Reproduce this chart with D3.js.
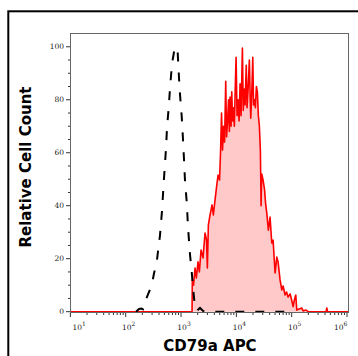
<!doctype html>
<html lang="en">
<head>
<meta charset="utf-8">
<title>CD79a APC histogram</title>
<script src="https://d3js.org/d3.v7.min.js" charset="utf-8"></script>
<style>
body {
    margin: 0;
    background: #fff;
}
.tick-label {
    font: 7.5px "DejaVu Serif", serif;
    fill: #222;
}
.title {
    font: bold 15px "DejaVu Sans", sans-serif;
    fill: #000;
}
</style>
</head>
<body>
<div id="vis-container"></div>
<script type="text/javascript">

// tick values
var xTicks = [1e1, 1e2, 1e3, 1e4, 1e5, 1e6];
var yTicks = [0, 20, 40, 60, 80, 100];

// isotype control (black dashed), positions in log10 of intensity
var isoLog = [2.186, 2.241, 2.286, 2.313, 2.349, 2.403, 2.470, 2.512, 2.561, 2.620,
              2.656, 2.684, 2.729, 2.747, 2.778, 2.802, 2.838, 2.873, 2.910, 2.940,
              2.964, 2.982, 3.013, 3.036, 3.054, 3.072, 3.103, 3.127, 3.163, 3.193,
              3.217, 3.253, 3.289, 3.343, 3.398, 3.434, 5.0];
var isoCount = [0, 1.0, 1.2, 0.9, 3.7, 6.5, 10, 14.5, 18.8, 28.9,
                38, 47.8, 61.8, 69.7, 77.2, 84.8, 93.8, 98, 100, 97.6,
                88, 81.8, 73.5, 64.8, 57.3, 49.3, 41.4, 31.6, 21.4, 15,
                9, 1.4, 0.4, 1.4, 0.3, 0, 0];

// CD79a APC stained sample (red filled)
var cd79Log = [0.99, 3.199, 3.204, 3.226, 3.253, 3.277, 3.307, 3.331, 3.362, 3.398,
               3.434, 3.461, 3.476, 3.494, 3.524, 3.561, 3.584, 3.615, 3.646, 3.669,
               3.696, 3.714, 3.732, 3.750, 3.769, 3.787, 3.808, 3.823, 3.841, 3.859,
               3.873, 3.886, 3.904, 3.917, 3.931, 3.946, 3.964, 3.977, 3.995, 4.013,
               4.031, 4.049, 4.067, 4.085, 4.109, 4.125, 4.139, 4.157, 4.179, 4.193,
               4.212, 4.235, 4.251, 4.260, 4.278, 4.297, 4.311, 4.329, 4.344, 4.362,
               4.380, 4.398, 4.416, 4.434, 4.447, 4.459, 4.483, 4.510, 4.528, 4.550,
               4.579, 4.609, 4.640, 4.664, 4.700, 4.731, 4.754, 4.790, 4.821, 4.845,
               4.881, 4.908, 4.935, 4.972, 4.999, 5.026, 5.048, 5.074, 5.092, 5.134,
               5.183, 5.206, 5.260, 5.297, 5.622, 5.635, 5.649, 6.04];
var cd79Count = [0, 0, 12, 10, 16.5, 12.7, 18.8, 15, 23.3, 20.3,
                 29.7, 27, 16.5, 32.7, 36.5, 40.3, 36.5, 42.2, 47.8, 51.6,
                 49.7, 60, 75, 61, 70, 64, 87, 66, 72, 80,
                 68, 81, 70, 83, 72, 77, 70, 82, 96, 74,
                 80, 72, 86, 74, 99.5, 76, 84, 78, 93, 77,
                 84, 95, 80, 73, 82, 96, 78, 80, 77, 85,
                 83, 74, 70, 61, 40, 52, 49.7, 46, 41, 37.2,
                 30.8, 35.7, 25.9, 27, 14.6, 20.6, 18.8, 12, 8.2, 9.7,
                 6.3, 7.4, 5.5, 6.7, 4.4, 1.9, 4.4, 6.3, 0.6, 1,
                 1.4, 0.3, 0.6, 0, 0, 1.4, 0, 0];

var svg = d3.select("#vis-container")
    .append("svg")
    .attr("width", 358)
    .attr("height", 356);

// outer frame
svg.append("rect")
    .attr("x", 8.3).attr("y", 11.3)
    .attr("width", 400).attr("height", 400)
    .attr("fill", "none")
    .attr("stroke", "#000")
    .attr("stroke-width", 2);

var plot = { left: 70, top: 33, right: 349, bottom: 313 };

var xScale = d3.scaleLog()
    .domain([Math.pow(10, 0.993), Math.pow(10, 6.036)])
    .range([plot.left, plot.right]);

var yScale = d3.scaleLinear()
    .domain([-0.5, 105.2])
    .range([plot.bottom, plot.top]);

var iso = isoLog.map(function(d, i) { return { v: Math.pow(10, d), c: isoCount[i] }; });
var cd79 = cd79Log.map(function(d, i) { return { v: Math.pow(10, d), c: cd79Count[i] }; });

svg.append("clipPath").attr("id", "clip")
  .append("rect")
    .attr("x", plot.left).attr("y", plot.top)
    .attr("width", plot.right - plot.left)
    .attr("height", plot.bottom - plot.top);

var canvas = svg.append("g").attr("clip-path", "url(#clip)");

var area = d3.area()
    .x(function(d) { return xScale(d.v); })
    .y0(yScale(0))
    .y1(function(d) { return yScale(d.c); });

var line = d3.line()
    .x(function(d) { return xScale(d.v); })
    .y(function(d) { return yScale(d.c); });

canvas.append("path")
    .datum(cd79)
    .attr("d", area)
    .attr("fill", "#ffc9c9");

canvas.append("path")
    .datum(cd79)
    .attr("d", line)
    .attr("fill", "none")
    .attr("stroke", "#ff0000")
    .attr("stroke-width", 1.6)
    .attr("stroke-linejoin", "round");

canvas.append("path")
    .datum(iso)
    .attr("d", line)
    .attr("fill", "none")
    .attr("stroke", "#000")
    .attr("stroke-width", 2)
    .attr("stroke-dasharray", "9,11");

// plot box
svg.append("rect")
    .attr("x", plot.left + 0.5).attr("y", plot.top + 0.5)
    .attr("width", plot.right - plot.left - 1)
    .attr("height", plot.bottom - plot.top - 1)
    .attr("fill", "none")
    .attr("stroke", "#666")
    .attr("stroke-width", 1);

// y axis ticks: majors every 20, minors every 5
var yMinor = d3.range(0, 105, 5);
svg.append("g").selectAll("line")
    .data(yMinor)
  .enter().append("line")
    .attr("x1", function(d) { return plot.left - (d % 20 === 0 ? 4 : 2); })
    .attr("x2", plot.left)
    .attr("y1", function(d) { return yScale(d); })
    .attr("y2", function(d) { return yScale(d); })
    .attr("stroke", "#333")
    .attr("stroke-width", 1);

svg.append("g").selectAll("text")
    .data(yTicks)
  .enter().append("text")
    .attr("class", "tick-label")
    .attr("x", plot.left - 6)
    .attr("y", function(d) { return yScale(d); })
    .attr("dy", "0.35em")
    .attr("text-anchor", "end")
    .text(function(d) { return d; });

// x axis ticks: decades and log minors
var xMinor = [];
xTicks.slice(0, -1).forEach(function(t) {
    for (var k = 2; k <= 9; k++) xMinor.push(t * k);
});

svg.append("g").selectAll("line")
    .data(xTicks.concat(xMinor))
  .enter().append("line")
    .attr("x1", function(d) { return xScale(d); })
    .attr("x2", function(d) { return xScale(d); })
    .attr("y1", plot.bottom)
    .attr("y2", function(d) { return plot.bottom + (xTicks.indexOf(d) >= 0 ? 4 : 2); })
    .attr("stroke", "#333")
    .attr("stroke-width", 1);

var xLabels = svg.append("g").selectAll("text")
    .data(xTicks)
  .enter().append("text")
    .attr("class", "tick-label")
    .attr("x", function(d) { return xScale(d) + 3; })
    .attr("y", 330)
    .attr("text-anchor", "middle");

xLabels.append("tspan").text("10");
xLabels.append("tspan")
    .attr("dy", -4.5)
    .style("font-size", "6px")
    .text(function(d) { return Math.round(Math.log10(d)); });

// keep the end labels inside the plot width
xLabels.each(function() {
    var b = this.getBBox(), x = +this.getAttribute("x");
    if (b.x < plot.left + 2.5) x += plot.left + 2.5 - b.x;
    if (b.x + b.width > plot.right - 1.5) x -= b.x + b.width - (plot.right - 1.5);
    this.setAttribute("x", x);
});

// axis titles
svg.append("text")
    .attr("class", "title")
    .attr("x", 210)
    .attr("y", 351)
    .attr("text-anchor", "middle")
    .text("CD79a APC");

svg.append("text")
    .attr("class", "title")
    .attr("transform", "translate(31,167) rotate(-90)")
    .attr("text-anchor", "middle")
    .text("Relative Cell Count");

</script>
</body>
</html>
